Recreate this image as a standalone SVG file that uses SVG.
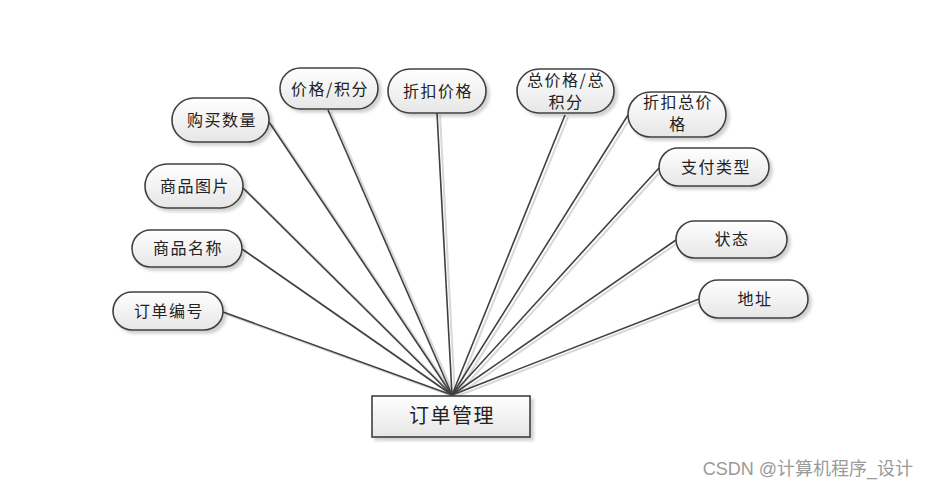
<svg xmlns="http://www.w3.org/2000/svg" width="930" height="488" viewBox="0 0 930 488">
<style>
.n{fill:url(#g);stroke:#404040;stroke-width:1.6;filter:url(#sh)}
.t{font-family:"Noto Sans CJK SC","Liberation Sans",sans-serif;font-size:16px;fill:#222;text-anchor:middle;letter-spacing:1.5px}
.c line{stroke:#404040;stroke-width:1.6}
.s line{stroke:#d8d8d8;stroke-width:2}
</style>
<defs>
<linearGradient id="g" x1="0" y1="0" x2="0" y2="1">
<stop offset="0" stop-color="#ffffff"/>
<stop offset="1" stop-color="#e6e6e6"/>
</linearGradient>
<filter id="sh" x="-10%" y="-10%" width="130%" height="140%">
<feDropShadow dx="3" dy="3" stdDeviation="1.5" flood-color="#000" flood-opacity="0.18"/>
</filter>
</defs>
<rect width="930" height="488" fill="#fff"/>
<g id="connectors">
<g class="s" transform="translate(3,2)">
<line x1="223" y1="312" x2="452" y2="395"/>
<line x1="242" y1="249" x2="452" y2="395"/>
<line x1="243" y1="188" x2="452" y2="395"/>
<line x1="269" y1="122" x2="452" y2="395"/>
<line x1="328" y1="110" x2="452" y2="395"/>
<line x1="437" y1="113" x2="452" y2="395"/>
<line x1="565" y1="115" x2="452" y2="395"/>
<line x1="628" y1="115" x2="452" y2="395"/>
<line x1="659" y1="168" x2="452" y2="395"/>
<line x1="676" y1="240" x2="452" y2="395"/>
<line x1="699" y1="299" x2="452" y2="395"/>
</g>
<g class="c">
<line x1="223" y1="312" x2="452" y2="395"/>
<line x1="242" y1="249" x2="452" y2="395"/>
<line x1="243" y1="188" x2="452" y2="395"/>
<line x1="269" y1="122" x2="452" y2="395"/>
<line x1="328" y1="110" x2="452" y2="395"/>
<line x1="437" y1="113" x2="452" y2="395"/>
<line x1="565" y1="115" x2="452" y2="395"/>
<line x1="628" y1="115" x2="452" y2="395"/>
<line x1="659" y1="168" x2="452" y2="395"/>
<line x1="676" y1="240" x2="452" y2="395"/>
<line x1="699" y1="299" x2="452" y2="395"/>
</g>
</g>
<g id="center">
<rect class="n" x="372" y="396" width="158" height="41"/>
<text class="t" x="452" y="423" style="font-size:20px">订单管理</text>
</g>
<g id="n1"><rect class="n" x="113" y="292" width="110" height="38" rx="19"/><text class="t" x="169" y="317">订单编号</text></g>
<g id="n2"><rect class="n" x="132" y="230" width="110" height="37" rx="18.5"/><text class="t" x="188" y="254">商品名称</text></g>
<g id="n3"><rect class="n" x="145" y="164" width="98" height="44" rx="22"/><text class="t" x="195" y="192">商品图片</text></g>
<g id="n4"><rect class="n" x="172" y="98" width="97" height="44" rx="22"/><text class="t" x="222" y="126">购买数量</text></g>
<g id="n5"><rect class="n" x="280" y="68" width="98" height="41" rx="20.5"/><text class="t" x="330" y="95">价格/积分</text></g>
<g id="n6"><rect class="n" x="388" y="69" width="98" height="44" rx="22"/><text class="t" x="438" y="97">折扣价格</text></g>
<g id="n7"><rect class="n" x="517" y="69" width="97" height="44" rx="22"/><text class="t" x="566" y="86">总价格/总</text><text class="t" x="566" y="108">积分</text></g>
<g id="n8"><rect class="n" x="628" y="92" width="98" height="45" rx="22.5"/><text class="t" x="678" y="108">折扣总价</text><text class="t" x="678" y="130">格</text></g>
<g id="n9"><rect class="n" x="659" y="148" width="110" height="38" rx="19"/><text class="t" x="716" y="173">支付类型</text></g>
<g id="n10"><rect class="n" x="676" y="221" width="111" height="37" rx="18.5"/><text class="t" x="732" y="245">状态</text></g>
<g id="n11"><rect class="n" x="699" y="280" width="109" height="38" rx="19"/><text class="t" x="755" y="305">地址</text></g>
<text x="913" y="475" style="font-family:'Liberation Sans','Noto Sans CJK SC',sans-serif;font-size:18px;fill:#9a9a9a;text-anchor:end">CSDN @计算机程序_设计</text>
</svg>
